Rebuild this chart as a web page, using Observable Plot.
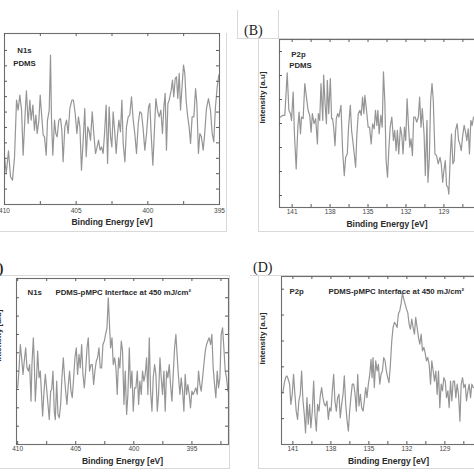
<!DOCTYPE html>
<html><head><meta charset="utf-8">
<script src="https://cdn.jsdelivr.net/npm/d3@7"></script>
<script src="https://cdn.jsdelivr.net/npm/@observablehq/plot@0.6"></script>
<style>
html,body{margin:0;padding:0;background:#fff;}
body{width:474px;height:474px;overflow:hidden;position:relative;font-family:"Liberation Sans",Arial,sans-serif;}
.panel{position:absolute;}
.panel svg{display:block;max-width:none;background:transparent;}
.ln{position:absolute;background:#d9d9d9;}
.lab{position:absolute;font-family:"Liberation Serif","Times New Roman",serif;font-size:14px;color:#222;line-height:1;}
</style></head>
<body>
<script>
// ---------- Panel A: N1s, PDMS ----------
const energiesA = [410.00,409.88,409.72,409.58,409.44,409.30,409.16,409.05,408.93,408.81,408.70,408.56,408.47,408.35,408.23,408.14,408.02,407.91,407.81,407.72,407.60,407.51,407.40,407.30,407.21,407.09,407.00,406.88,406.79,406.72,406.63,406.51,406.42,406.33,406.21,406.09,406.00,405.91,405.79,405.67,405.56,405.44,405.30,405.19,405.07,404.95,404.84,404.74,404.63,404.51,404.40,404.30,404.19,404.09,404.00,403.88,403.77,403.65,403.56,403.44,403.33,403.23,403.12,403.02,402.91,402.81,402.70,402.60,402.51,402.42,402.30,402.21,402.12,402.02,401.91,401.81,401.72,401.60,401.49,401.37,401.26,401.14,401.02,400.91,400.79,400.67,400.56,400.44,400.33,400.21,400.09,399.95,399.86,399.77,399.65,399.53,399.44,399.33,399.21,399.09,398.98,398.88,398.79,398.70,398.60,398.51,398.37,398.28,398.19,398.09,398.00,397.91,397.81,397.72,397.60,397.51,397.42,397.33,397.23,397.12,397.02,396.91,396.79,396.67,396.58,396.47,396.37,396.26,396.14,396.05,395.91,395.77,395.63,395.51,395.40,395.28,395.16,395.05];
const intensityA = [3.10,2.01,3.48,1.80,1.58,3.10,6.77,6.13,7.10,6.13,3.20,5.91,7.38,5.26,6.77,5.48,6.45,4.83,5.80,4.61,5.48,7.10,5.69,4.50,4.39,3.20,5.48,6.13,9.70,5.48,3.20,5.48,4.61,4.39,5.48,5.58,4.83,2.77,5.04,5.48,4.61,6.23,6.77,6.77,5.91,4.61,5.69,5.04,2.23,4.18,6.23,3.10,5.04,4.72,4.18,6.02,4.61,3.31,3.64,4.18,3.53,3.74,3.31,4.61,6.45,2.66,6.34,4.39,3.74,6.02,4.61,3.31,4.50,5.48,4.72,6.77,3.96,2.77,5.04,5.69,5.80,6.99,5.48,4.61,3.31,5.26,6.02,5.91,4.94,3.53,4.61,6.34,6.56,4.61,2.55,5.04,6.88,6.13,5.69,6.13,4.61,6.34,7.21,3.53,6.56,6.77,7.42,8.07,6.99,8.18,8.29,6.88,8.51,6.13,7.86,9.05,8.51,6.77,5.80,5.04,3.96,5.69,5.69,7.53,6.56,3.31,4.61,4.39,3.53,4.39,6.23,6.88,6.13,4.61,4.07,6.34,7.64,8.40];
const xMajorA = [410, 405, 400, 395];
const xMinorA = [410, 407.5, 405, 402.5, 400, 397.5, 395];
const yTicksA = [1,2,3,4,5,6,7,8,9,10];

// ---------- Panel B: P2p, PDMS ----------
const energiesB = [141.92,141.74,141.58,141.39,141.26,141.13,141.05,140.92,140.82,140.68,140.55,140.45,140.34,140.26,140.13,140.00,139.87,139.74,139.61,139.50,139.40,139.27,139.14,139.00,138.93,138.82,138.72,138.58,138.51,138.40,138.29,138.22,138.11,137.98,137.88,137.80,137.72,137.61,137.51,137.40,137.30,137.14,137.01,136.88,136.77,136.64,136.54,136.40,136.30,136.19,136.09,135.98,135.88,135.77,135.64,135.54,135.43,135.33,135.25,135.12,134.99,134.88,134.75,134.64,134.51,134.41,134.30,134.22,134.12,133.99,133.88,133.78,133.67,133.57,133.46,133.36,133.25,133.12,132.99,132.89,132.78,132.68,132.57,132.44,132.33,132.23,132.12,132.02,131.91,131.81,131.70,131.60,131.49,131.39,131.28,131.15,131.02,130.92,130.81,130.71,130.57,130.47,130.34,130.26,130.15,130.05,129.94,129.84,129.71,129.58,129.45,129.31,129.21,129.10,129.00,128.89,128.79,128.68,128.61,128.50,128.40,128.29,128.19,128.08,127.95,127.84,127.74,127.63,127.53,127.40,127.29,127.19,127.08,126.98,126.87,126.77,126.66];
const intensityB = [4.27,4.34,4.34,6.11,4.55,4.41,4.13,5.31,3.57,2.11,3.85,4.48,3.57,4.27,4.20,5.66,5.10,4.55,4.34,3.64,4.41,3.99,4.20,3.15,4.41,4.13,5.66,4.13,6.02,4.83,3.99,5.80,4.41,5.87,4.20,4.20,3.85,3.08,4.20,4.41,4.27,4.76,2.87,1.83,2.59,2.73,3.85,4.76,3.71,3.22,2.73,2.18,3.57,4.41,4.55,4.34,5.10,4.41,5.17,4.55,3.85,3.85,3.15,3.99,3.78,4.55,3.92,4.55,3.57,4.34,3.85,6.15,4.90,2.45,1.76,2.87,3.85,4.27,3.29,3.71,2.87,3.71,2.73,3.85,3.50,2.73,3.85,3.29,5.03,3.99,3.01,3.36,2.66,4.27,4.27,4.06,4.27,5.10,3.85,4.62,3.57,1.83,4.13,1.55,2.59,4.97,5.66,4.97,2.73,2.66,2.32,2.59,2.32,1.55,2.04,2.45,1.41,1.34,1.06,2.59,3.57,2.32,2.45,3.71,3.99,3.29,3.15,2.87,3.43,3.92,3.64,3.29,3.78,2.73,4.13,3.92,4.27];
const xMajorB = [141, 138, 135, 132, 129];
const xMinorB = [141, 139.5, 138, 136.5, 135, 133.5, 132, 130.5, 129, 127.5, 126];
const yTicksB = [1,2,3,4,5,6,7];

// ---------- Panel C: N1s, PDMS-pMPC interface ----------
const energiesC = [410.00,409.89,409.77,409.66,409.54,409.43,409.31,409.20,409.08,408.97,408.85,408.77,408.65,408.57,408.48,408.37,408.28,408.16,408.05,407.96,407.85,407.73,407.62,407.51,407.39,407.28,407.16,407.07,406.96,406.85,406.76,406.64,406.53,406.42,406.30,406.19,406.07,405.96,405.87,405.76,405.64,405.53,405.41,405.30,405.18,405.07,404.95,404.84,404.72,404.61,404.49,404.38,404.26,404.15,404.03,403.92,403.81,403.69,403.58,403.46,403.35,403.23,403.12,403.00,402.89,402.77,402.66,402.54,402.43,402.31,402.20,402.11,402.00,401.88,401.77,401.65,401.54,401.43,401.31,401.20,401.08,400.97,400.85,400.74,400.62,400.51,400.39,400.28,400.16,400.05,399.93,399.82,399.70,399.59,399.48,399.36,399.25,399.13,399.02,398.90,398.79,398.67,398.56,398.44,398.33,398.21,398.10,397.98,397.87,397.75,397.64,397.53,397.41,397.30,397.18,397.07,396.95,396.84,396.72,396.61,396.49,396.38,396.26,396.15,396.03,395.92,395.80,395.69,395.58,395.46,395.35,395.23,395.12,395.00,394.89,394.77,394.66,394.54,394.43,394.31,394.20,394.08,393.97,393.85,393.74,393.63,393.51,393.39,393.28,393.17,393.05,392.94,392.82,392.71,392.59,392.48,392.36,392.25,392.13,392.02,391.90];
const intensityC = [3.09,4.00,5.45,4.73,3.82,4.55,5.27,4.18,4.00,4.36,2.36,4.36,5.82,4.55,2.36,3.64,5.09,3.64,4.00,2.91,1.55,2.91,3.82,3.09,2.18,1.36,2.91,3.00,4.00,1.82,1.36,3.45,1.64,1.45,2.18,3.64,4.73,3.64,2.91,2.18,3.27,4.00,2.91,2.55,3.64,4.73,5.27,3.82,4.91,4.18,5.45,3.82,3.09,4.00,5.27,5.82,4.00,4.36,4.36,3.27,4.00,4.55,4.73,5.27,4.18,4.18,5.45,5.64,6.00,6.36,8.00,6.73,5.27,5.82,4.36,4.73,4.18,2.73,4.73,4.18,5.64,5.09,2.18,4.00,1.64,2.73,5.27,3.09,4.00,1.82,3.09,3.09,4.00,2.18,3.45,2.73,4.00,3.45,3.82,4.73,2.73,5.82,2.91,1.82,3.64,4.36,3.82,1.82,2.73,4.73,3.64,2.73,4.00,1.82,4.00,3.64,4.36,3.27,2.36,3.82,5.27,6.00,4.73,3.64,2.73,3.64,2.91,1.82,3.82,2.73,3.27,2.73,2.00,2.91,2.73,2.91,3.09,2.73,4.00,3.27,2.91,3.64,4.36,5.09,5.45,5.64,5.82,5.45,6.00,4.18,3.27,2.55,4.00,3.09,3.64,6.00,6.36,5.27,4.00,3.64,2.91];
const xMajorC = [410, 405, 400, 395];
const xMinorC = [410, 407.5, 405, 402.5, 400, 397.5, 395, 392.5];
const yTicksC = [1,2,3,4,5,6,7,8];

// ---------- Panel D: P2p, PDMS-pMPC interface ----------
const energiesD = [141.79,141.69,141.58,141.47,141.37,141.26,141.16,141.05,140.95,140.84,140.74,140.63,140.53,140.42,140.31,140.21,140.10,140.00,139.89,139.79,139.68,139.58,139.47,139.36,139.26,139.15,139.05,138.94,138.84,138.73,138.63,138.52,138.42,138.31,138.20,138.10,137.99,137.89,137.78,137.68,137.57,137.47,137.36,137.26,137.15,137.04,136.94,136.83,136.73,136.62,136.52,136.41,136.31,136.20,136.09,135.99,135.88,135.78,135.67,135.57,135.46,135.36,135.25,135.15,135.04,134.93,134.83,134.75,134.67,134.57,134.46,134.35,134.25,134.14,134.04,133.93,133.83,133.72,133.62,133.51,133.41,133.30,133.19,133.09,132.98,132.88,132.77,132.67,132.56,132.46,132.35,132.24,132.14,132.03,131.93,131.82,131.72,131.61,131.51,131.40,131.30,131.19,131.08,130.98,130.87,130.77,130.66,130.56,130.45,130.35,130.24,130.13,130.03,129.92,129.82,129.71,129.61,129.50,129.40,129.29,129.19,129.08,128.97,128.87,128.76,128.66,128.55,128.45,128.34,128.24,128.13,128.03,127.92,127.81,127.71,127.60,127.50,127.39,127.29,127.18,127.08,126.97,126.87,126.76,126.65];
const intensityD = [2.00,2.33,2.58,2.65,2.52,2.33,1.55,1.94,2.71,1.94,1.29,0.97,1.68,1.94,2.84,1.74,1.16,0.45,1.81,0.78,1.55,0.65,1.29,2.45,1.16,0.52,1.55,1.29,1.87,2.20,1.81,1.55,1.49,1.68,0.97,1.42,1.29,2.07,2.71,1.68,1.29,1.81,1.94,1.03,1.55,1.94,2.65,1.55,0.97,0.52,1.29,1.87,2.33,2.33,1.94,1.29,2.71,1.49,1.94,1.42,1.29,1.68,2.20,1.81,2.33,2.71,3.29,2.58,3.36,2.20,3.23,2.84,3.10,2.33,2.71,2.84,3.36,3.23,2.84,2.58,2.39,3.10,4.01,4.52,4.72,4.65,4.52,5.04,5.17,5.43,5.84,5.62,5.43,5.23,5.10,4.65,4.46,4.84,4.52,4.26,4.91,4.52,4.13,3.88,4.26,3.62,3.75,3.55,3.23,3.36,3.10,2.33,3.23,2.84,2.45,2.84,1.94,2.84,1.42,2.33,2.07,2.58,2.45,1.81,2.07,1.42,2.45,1.68,2.45,2.45,1.81,2.33,1.94,0.90,2.33,2.58,2.20,2.33,1.68,2.07,2.33,1.81,2.33,2.20,2.20];
const xMajorD = [141, 138, 135, 132, 129];
const xMinorD = [141, 139.5, 138, 136.5, 135, 133.5, 132, 130.5, 129, 127.5, 126];
const yTicksD = [1,2,3,4,5,6];

const xTitle = "Binding Energy [eV]";
const yTitle = "Intensity [a.u]";

const LINE = "#959595", FRAME = "#6e6e6e", TICK = "#5a5a5a", TXT = "#2a2a2a";
const FONT = "Liberation Sans, Arial, sans-serif";

function panel(cfg) {
  const data = cfg.energies.map((e, i) => ({e, v: cfg.intensity[i]}));
  const fw = cfg.width - cfg.mL - cfg.mR;
  const fh = cfg.height - cfg.mT - cfg.mB;
  const tl = 3;
  const marks = [
    Plot.line(data, {x: "e", y: "v", stroke: LINE, strokeWidth: 1.2, curve: "linear"}),
    Plot.frame({stroke: FRAME, strokeWidth: 1.1}),
    Plot.tickX(cfg.xMinor, {x: d => d, insetTop: fh - tl, stroke: TICK}),
    Plot.tickX(cfg.xMinor, {x: d => d, insetBottom: fh - tl, stroke: TICK}),
    Plot.tickY(cfg.yTicks, {y: d => d, insetRight: fw - tl, stroke: TICK}),
    Plot.tickY(cfg.yTicks, {y: d => d, insetLeft: fw - tl, stroke: TICK}),
    Plot.text(cfg.xMajor, {x: d => d, frameAnchor: "bottom", dy: cfg.tickDy, text: d => String(d),
      fontSize: 6.5, fill: "#444", fontFamily: FONT}),
    Plot.text([xTitle], {frameAnchor: "bottom", dy: cfg.titleDy, text: d => d, fontSize: 8.5,
      fontWeight: "bold", fill: TXT, fontFamily: FONT})
  ];
  for (const n of cfg.notes) {
    marks.push(Plot.text([n.t], {frameAnchor: "top-left", textAnchor: n.anchor || "start", dx: n.dx, dy: n.dy,
      text: d => d, fontSize: 7.8, fontWeight: "bold", fill: TXT, fontFamily: FONT}));
  }
  if (cfg.yLabel) {
    marks.push(Plot.text([yTitle], {frameAnchor: "left", dx: cfg.yLabelDx, dy: cfg.yLabelDy || 0, rotate: -90,
      text: d => d, fontSize: 8, fontWeight: "bold", fill: TXT, fontFamily: FONT}));
  }
  const svg = Plot.plot({
    width: cfg.width, height: cfg.height,
    marginLeft: cfg.mL, marginRight: cfg.mR, marginTop: cfg.mT, marginBottom: cfg.mB,
    x: {domain: cfg.xDomain, axis: null},
    y: {domain: cfg.yDomain, axis: null},
    style: {background: "transparent", overflow: "visible"},
    marks
  });
  const div = document.createElement("div");
  div.className = "panel";
  div.style.left = cfg.left + "px";
  div.style.top = cfg.top + "px";
  div.style.width = cfg.width + "px";
  div.style.height = cfg.height + "px";
  div.appendChild(svg);
  document.body.appendChild(div);
}

function line(l, t, w, h) {
  const d = document.createElement("div");
  d.className = "ln";
  Object.assign(d.style, {left: l + "px", top: t + "px", width: w + "px", height: h + "px"});
  document.body.appendChild(d);
}
function label(txt, l, t, extra) {
  const d = document.createElement("div");
  d.className = "lab";
  d.textContent = txt;
  Object.assign(d.style, {left: l + "px", top: t + "px"}, extra || {});
  document.body.appendChild(d);
}

// light borders of the original figure tiles
line(226, 33, 1, 199); line(0, 231, 227, 1);
line(237, 10, 1, 28); line(278, 10, 1, 28); line(237, 38, 237, 1);
line(258, 38, 1, 194); line(258, 231, 216, 1);
line(0, 275, 229, 1); line(229, 275, 1, 194); line(0, 468, 230, 1);
line(250, 275, 224, 1); line(258, 275, 1, 194); line(258, 468, 216, 1);

panel({left: 0, top: 0, width: 226, height: 232, mL: 4, mT: 33, mR: 7, mB: 28,
  energies: energiesA, intensity: intensityA, xDomain: [410, 395], yDomain: [0, 11.1],
  xMajor: xMajorA, xMinor: xMinorA, yTicks: yTicksA, tickDy: 8, titleDy: 20,
  notes: [{t: "N1s", dx: 20, dy: 14, anchor: "middle"}, {t: "PDMS", dx: 20, dy: 27, anchor: "middle"}]});

panel({left: 240, top: 0, width: 260, height: 234, mL: 39, mT: 39, mR: 6, mB: 27,
  energies: energiesB, intensity: intensityB, xDomain: [142, 125], yDomain: [0.5, 7.5],
  xMajor: xMajorB, xMinor: xMinorB, yTicks: yTicksB, tickDy: 6.5, titleDy: 19,
  notes: [{t: "P2p", dx: 19, dy: 12, anchor: "middle"}, {t: "PDMS", dx: 21, dy: 23, anchor: "middle"}],
  yLabel: true, yLabelDx: -17});

panel({left: -30, top: 237, width: 260, height: 232, mL: 46, mT: 41, mR: 2, mB: 25,
  energies: energiesC, intensity: intensityC, xDomain: [410.1, 391.85], yDomain: [0, 9.05],
  xMajor: xMajorC, xMinor: xMinorC, yTicks: yTicksC, tickDy: 6, titleDy: 19,
  notes: [{t: "N1s", dx: 11, dy: 11}, {t: "PDMS-pMPC Interface at 450 mJ/cm²", dx: 39, dy: 11}],
  yLabel: true, yLabelDx: -18});

panel({left: 240, top: 237, width: 261, height: 232, mL: 41, mT: 39, mR: 6, mB: 25,
  energies: energiesD, intensity: intensityD, xDomain: [141.9, 125.0], yDomain: [0, 6.49],
  xMajor: xMajorD, xMinor: xMinorD, yTicks: yTicksD, tickDy: 6, titleDy: 19,
  notes: [{t: "P2p", dx: 8, dy: 12}, {t: "PDMS-pMPC Interface at 450 mJ/cm²", dx: 47, dy: 12}],
  yLabel: true, yLabelDx: -19, yLabelDy: 4});

label("(B)", 244, 24);
label("(D)", 253, 261);
label("(C)", -16, 262, {fontWeight: "bold"});
</script>
</body></html>
